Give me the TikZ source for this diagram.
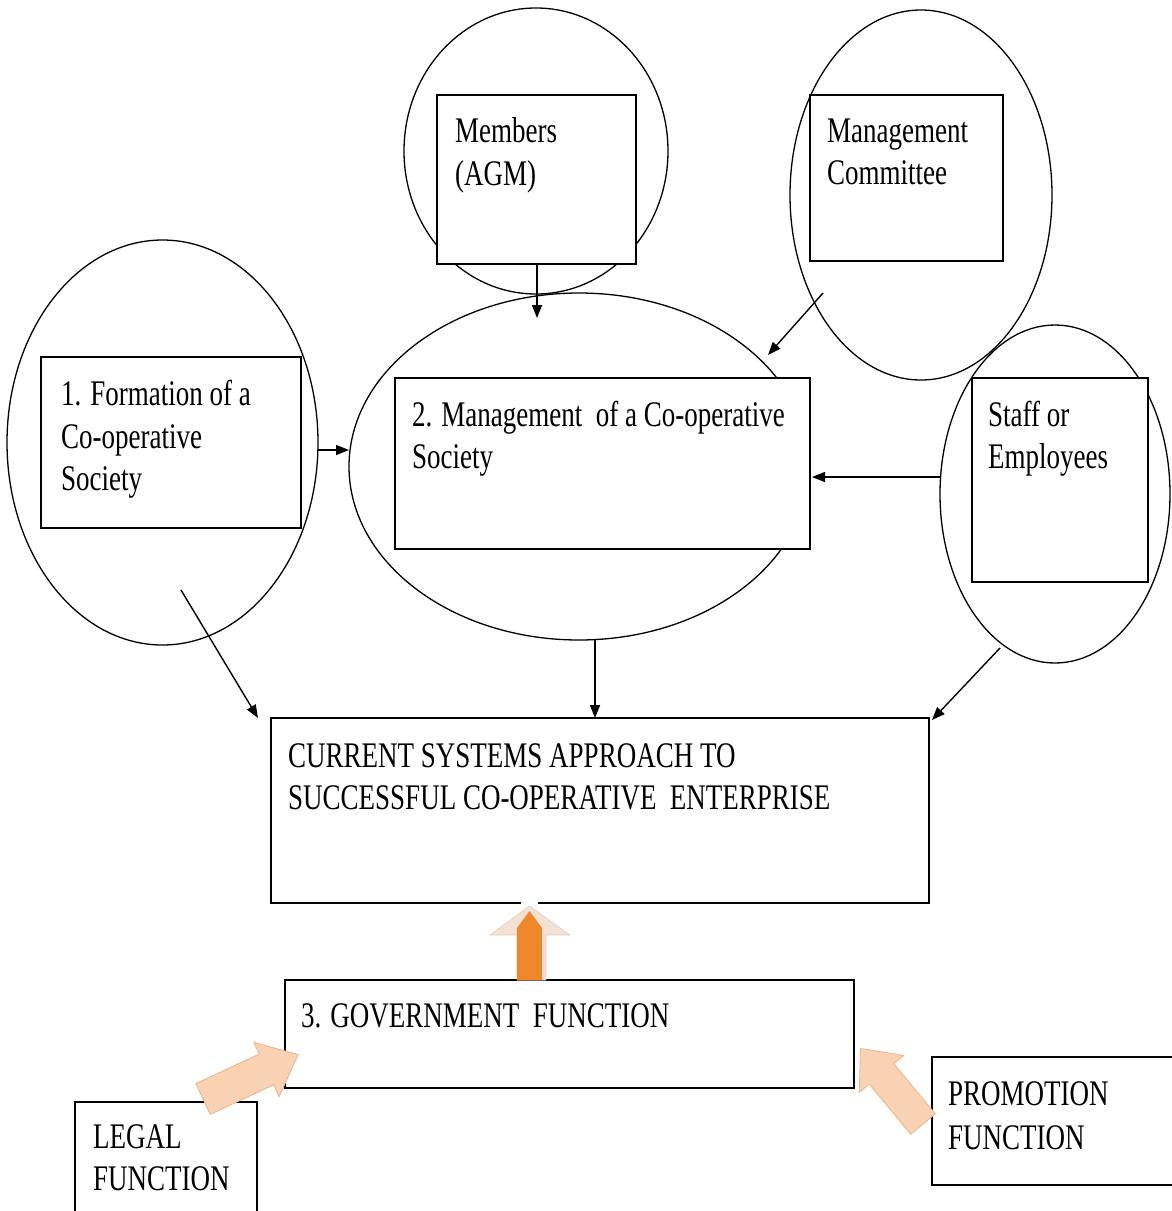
\documentclass[tikz,border=0pt]{standalone}
\usepackage{fontspec}
\setmainfont[FakeStretch=0.75]{Liberation Serif}
\usetikzlibrary{arrows.meta,shapes.geometric}
\definecolor{peach}{HTML}{F8D2B2}
\definecolor{peachedge}{HTML}{EDB489}
\definecolor{darkorange}{HTML}{F0862A}
\definecolor{paleorange}{HTML}{F3E2D4}
\begin{document}
\begin{tikzpicture}[x=1pt,y=-1pt,
  ring/.style={draw,ellipse,line width=1.3pt,inner sep=0pt},
  box/.style={draw,rectangle,line width=1.8pt,fill=white,inner sep=0pt},
  txt/.style={anchor=base west,inner sep=0pt,font=\fontsize{36}{43}\selectfont},
  con/.style={line width=1.4pt,-{Triangle[length=13pt,width=10pt]}},
  blockarrow/.style={fill=peach,draw=peachedge,line width=0.8pt,line join=round}
]
\useasboundingbox[fill=white] (0,0) rectangle (1172,1211);

% circles / ellipses
\node[ring,minimum width=264pt,minimum height=286pt] (memCirc) at (536,151) {};
\node[ring,minimum width=262pt,minimum height=370pt] (mcCirc) at (921,195) {};
\node[ring,minimum width=311pt,minimum height=405pt] (formCirc) at (162.5,442.5) {};
\node[ring,minimum width=460pt,minimum height=347pt] (mgmtCirc) at (579,466.5) {};
\node[ring,minimum width=230pt,minimum height=338pt] (staffCirc) at (1055,494) {};

% boxes
\node[box,minimum width=199pt,minimum height=169pt] (memBox) at (536.5,179.5) {};
\node[box,minimum width=193pt,minimum height=166pt] (mcBox) at (906.5,178) {};
\node[box,minimum width=260pt,minimum height=171pt] (formBox) at (171,442.5) {};
\node[box,minimum width=415pt,minimum height=171pt] (mgmtBox) at (602.5,463.5) {};
\node[box,minimum width=176pt,minimum height=204pt] (staffBox) at (1060,480) {};
\node[box,minimum width=658pt,minimum height=185pt] (curBox) at (600,810.5) {};
\node[box,minimum width=569pt,minimum height=108pt] (govBox) at (569.5,1034) {};
\node[box,minimum width=182pt,minimum height=116pt] (legalBox) at (166,1160) {};
\node[box,minimum width=244pt,minimum height=128pt] (promoBox) at (1054,1121) {};

% texts
\node[txt] (tMem1) at (455,142) {Members};
\node[txt] (tMem2) at (455,185) {(AGM)};
\node[txt] (tMC1) at (827,142) {Management};
\node[txt] (tMC2) at (827,184) {Committee};
\node[txt] (tF1) at (61,405) {1. Formation of a};
\node[txt] (tF2) at (61,448) {Co-operative};
\node[txt] (tF3) at (61,490) {Society};
\node[txt] (tM1) at (412,426) {2. Management\ \ of a Co-operative};
\node[txt] (tM2) at (412,468) {Society};
\node[txt] (tS1) at (988,426) {Staff or};
\node[txt] (tS2) at (988,468) {Employees};
\node[txt] (tC1) at (288,767) {CURRENT SYSTEMS APPROACH TO};
\node[txt] (tC2) at (288,809) {SUCCESSFUL CO-OPERATIVE\ \ ENTERPRISE};
\node[txt] (tG) at (301,1027) {3. GOVERNMENT\ \ FUNCTION};
\node[txt] (tL1) at (93,1148) {LEGAL};
\node[txt] (tL2) at (93,1190) {FUNCTION};
\node[txt] (tP1) at (948,1105) {PROMOTION};
\node[txt] (tP2) at (948,1149) {FUNCTION};

% connector end points
\coordinate (memTip) at (537,318);
\coordinate (mcStart) at (823,293);
\coordinate (mcTip) at (768,355);
\coordinate (formStart) at (318,450);
\coordinate (formTip) at (349,450);
\coordinate (staffStart) at (940,477);
\coordinate (staffTip) at (812,477);
\coordinate (fcStart) at (181,590);
\coordinate (fcTip) at (258,718);
\coordinate (mcurStart) at (595,640);
\coordinate (mcurTip) at (595,718);
\coordinate (scStart) at (1000,648);
\coordinate (scTip) at (932,720);

\draw[con] (memBox.south -| memTip) -- (memTip);
\draw[con] (mcStart) -- (mcTip);
\draw[con] (formStart) -- (formTip);
\draw[con] (staffStart) -- (staffTip);
\draw[con] (fcStart) -- (fcTip);
\draw[con] (mcurStart) -- (mcurTip);
\draw[con] (scStart) -- (scTip);

% orange up arrow between government and current systems
\coordinate (upBase) at (529.5,980);
\fill[white] (521,899) rectangle (538,915);
\draw[fill=paleorange,draw=paleorange!80!gray,line width=0.6pt,line join=round]
  (517,980) -- (517,935) -- (490,935) -- (529.5,906) -- (570,935) -- (546,935) -- (546,980) -- cycle;
\fill[darkorange] (517,980) -- (517,928) -- (529.5,911) -- (542,928) -- (542,980) -- cycle;

% legal function arrow
\begin{scope}[shift={(203,1099)},rotate=25]
  \draw[blockarrow] (0,-17) -- (70,-17) -- (70,-30) -- (105,0) -- (70,30) -- (70,17) -- (0,17) -- cycle;
\end{scope}
% promotion function arrow
\begin{scope}[shift={(923,1124)},rotate=129.6]
  \draw[blockarrow] (0,-16) -- (65,-16) -- (65,-29) -- (98,0) -- (65,29) -- (65,16) -- (0,16) -- cycle;
\end{scope}
\end{tikzpicture}
\end{document}
